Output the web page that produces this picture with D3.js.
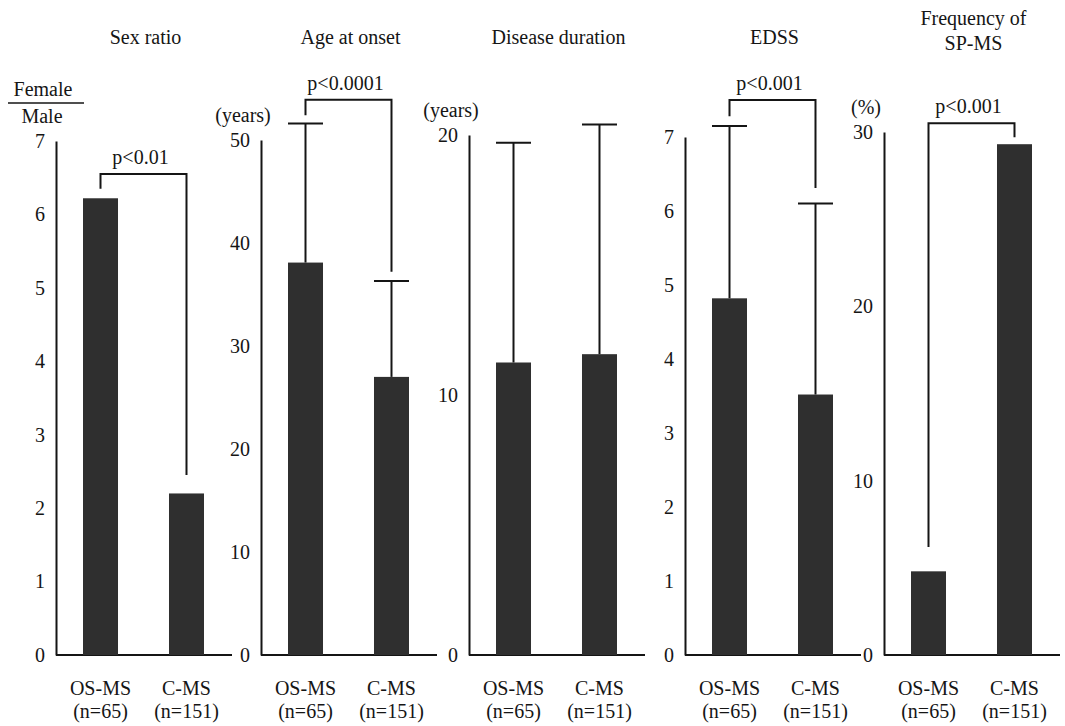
<!DOCTYPE html>
<html>
<head>
<meta charset="utf-8">
<script src="https://cdn.jsdelivr.net/npm/d3@7"></script>
<style>
  body { margin: 0; background: #fff; }
</style>
</head>
<body>
<script>
// groups compared in every panel
const groups = ["OS-MS", "C-MS"];
const groupN = ["(n=65)", "(n=151)"];

// one entry per panel
const panelTitles = [["Sex ratio"], ["Age at onset"], ["Disease duration"], ["EDSS"], ["Frequency of", "SP-MS"]];
const unitLabels = [null, "(years)", "(years)", null, "(%)"];
const yMax = [7, 50, 20, 7, 30];
const yTicks = [
  [0, 1, 2, 3, 4, 5, 6, 7],
  [0, 10, 20, 30, 40, 50],
  [0, 10, 20],
  [0, 1, 2, 3, 4, 5, 6, 7],
  [0, 10, 20, 30]
];
const osValues = [6.22, 38.1, 11.25, 4.82, 4.8];
const cValues = [2.2, 27.0, 11.57, 3.52, 29.3];
const osErrTop = [null, 51.6, 19.7, 7.15, null];
const cErrTop = [null, 36.3, 20.4, 6.1, null];
const pLabels = ["p<0.01", "p<0.0001", null, "p<0.001", "p<0.001"];
const bracketTop = [6.55, 53.9, null, 7.5, 30.5];
const bracketLeftEnd = [6.35, 52.4, null, 7.28, 6.2];
const bracketRightEnd = [2.45, 37.2, null, 6.31, 29.7];

const width = 1065, height = 726;
const base = 655;
const axisX = [56, 261, 469, 685, 884];
const axisTop = [141, 140, 135, 137, 132];
const panelW = 175;
const serif = "'Liberation Serif', 'DejaVu Serif', 'Times New Roman', serif";
const ink = "#151515";

const svg = d3.select("body").append("svg")
  .attr("width", width)
  .attr("height", height)
  .attr("font-family", serif);

const label = (sel, size) => sel
  .style("font-family", serif)
  .style("font-size", size + "px")
  .attr("fill", ink);

const x = d3.scaleBand()
  .domain(groups)
  .range([0, panelW])
  .paddingInner(0.593)
  .paddingOuter(0.314);

panelTitles.forEach((title, i) => {
  const g = svg.append("g").attr("transform", `translate(${axisX[i]},0)`);
  const y = d3.scaleLinear().domain([0, yMax[i]]).range([base, axisTop[i]]);

  // title
  const tt = g.append("text")
    .attr("x", panelW / 2 + 2)
    .attr("text-anchor", "middle")
    .call(label, 20);
  if (title.length === 1) {
    tt.attr("y", 44).text(title[0]);
  } else {
    tt.append("tspan").attr("x", panelW / 2 + 2).attr("y", 25).text(title[0]);
    tt.append("tspan").attr("x", panelW / 2 + 2).attr("y", 50).text(title[1]);
  }

  // y axis
  const ax = g.append("g")
    .call(d3.axisLeft(y).tickValues(yTicks[i]).tickSize(0).tickPadding(11).tickFormat(d3.format("d")));
  ax.select(".domain").attr("stroke", ink).attr("stroke-width", 2);
  ax.selectAll("text").call(label, 20);

  // baseline
  g.append("line")
    .attr("x1", 0).attr("x2", panelW + 1)
    .attr("y1", base).attr("y2", base)
    .attr("stroke", ink).attr("stroke-width", 2);

  if (unitLabels[i]) {
    g.append("text")
      .attr("x", -18).attr("y", axisTop[i] - 18)
      .attr("text-anchor", "middle")
      .call(label, 20)
      .text(unitLabels[i]);
  }

  // bars
  const vals = [osValues[i], cValues[i]];
  const errs = [osErrTop[i], cErrTop[i]];
  g.selectAll("rect.bar")
    .data(groups)
    .enter().append("rect")
    .attr("class", "bar")
    .attr("x", d => x(d))
    .attr("width", x.bandwidth())
    .attr("y", (d, j) => y(vals[j]))
    .attr("height", (d, j) => base - y(vals[j]))
    .attr("fill", "#2f2f2f");

  // error bars
  groups.forEach((gr, j) => {
    if (errs[j] == null) return;
    const cx = x(gr) + x.bandwidth() / 2;
    g.append("line")
      .attr("x1", cx).attr("x2", cx)
      .attr("y1", y(vals[j])).attr("y2", y(errs[j]))
      .attr("stroke", ink).attr("stroke-width", 2);
    g.append("line")
      .attr("x1", x(gr)).attr("x2", x(gr) + x.bandwidth())
      .attr("y1", y(errs[j])).attr("y2", y(errs[j]))
      .attr("stroke", ink).attr("stroke-width", 2);
  });

  // significance bracket
  if (pLabels[i]) {
    const lx = x(groups[0]) + x.bandwidth() / 2;
    const rx = x(groups[1]) + x.bandwidth() / 2;
    g.append("path")
      .attr("d", d3.line()([
        [lx, y(bracketLeftEnd[i])],
        [lx, y(bracketTop[i])],
        [rx, y(bracketTop[i])],
        [rx, y(bracketRightEnd[i])]
      ]))
      .attr("fill", "none")
      .attr("stroke", ink).attr("stroke-width", 2);
    g.append("text")
      .attr("x", (lx + rx) / 2 - 3)
      .attr("y", y(bracketTop[i]) - 10)
      .attr("text-anchor", "middle")
      .call(label, 20)
      .text(pLabels[i]);
  }

  // group labels
  groups.forEach((gr, j) => {
    const cx = x(gr) + x.bandwidth() / 2;
    g.append("text")
      .attr("x", cx).attr("y", 695)
      .attr("text-anchor", "middle")
      .call(label, 20)
      .text(gr);
    g.append("text")
      .attr("x", cx).attr("y", 718)
      .attr("text-anchor", "middle")
      .call(label, 20)
      .text(groupN[j]);
  });
});

// Female / Male unit for the sex ratio panel
const fm = svg.append("g");
fm.append("text").attr("x", 43).attr("y", 96).attr("text-anchor", "middle")
  .call(label, 20).text("Female");
fm.append("line").attr("x1", 8).attr("x2", 84).attr("y1", 103).attr("y2", 103)
  .attr("stroke", ink).attr("stroke-width", 1.5);
fm.append("text").attr("x", 42).attr("y", 123).attr("text-anchor", "middle")
  .call(label, 20).text("Male");
</script>
</body>
</html>
